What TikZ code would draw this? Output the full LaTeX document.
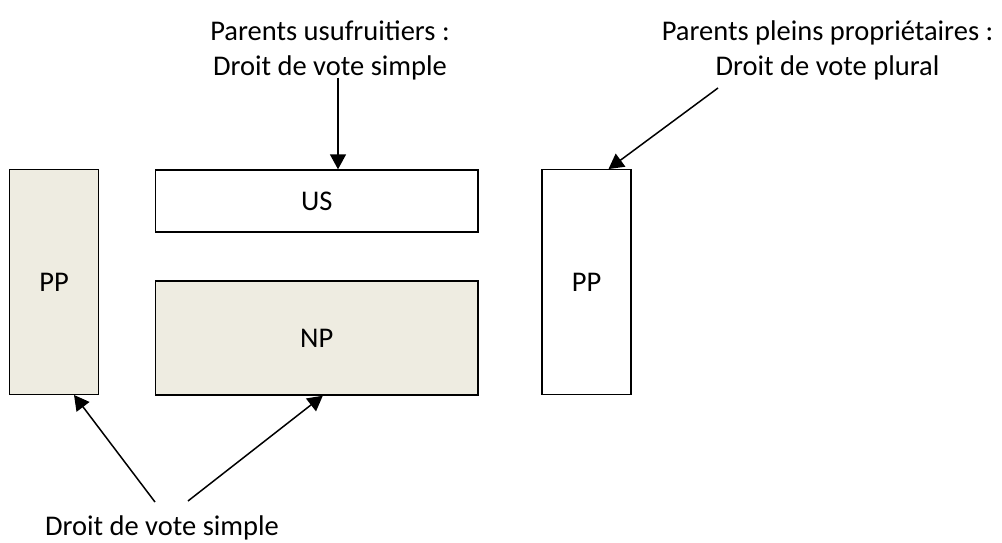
\documentclass[tikz,border=0pt]{standalone}
\usepackage{fontspec}
\setmainfont{Carlito}
\usetikzlibrary{arrows.meta}

\definecolor{beige}{HTML}{EEECE1}

\tikzset{
  part/.style={draw, line width=1.4pt, inner sep=0pt, font=\fontsize{28.5}{34}\selectfont},
  lbl/.style={align=center, inner sep=0pt, font=\fontsize{28.5}{35}\selectfont},
  arr/.style={line width=1.5pt, -{Triangle[length=15pt, width=16pt]}}
}

\begin{document}
\begin{tikzpicture}[x=1pt, y=-1pt]
        \useasboundingbox (0,0) rectangle (1002,543);

        % Boxes
        \node[part, fill=beige, minimum width=88.5pt, minimum height=224.5pt] (ppl) at (54,282) {PP};
        \node[part, minimum width=322.5pt, minimum height=62pt] (us) at (316.8,201) {US};
        \node[part, fill=beige, minimum width=322.5pt, minimum height=114pt] (np) at (316.8,338) {NP};
        \node[part, minimum width=89pt, minimum height=224.5pt] (ppr) at (586.5,282) {PP};

        % Labels
        \node[lbl] (tusu) at (330,50) {Parents usufruitiers :\\Droit de vote simple};
        \node[lbl] (tpp) at (827.5,50) {Parents pleins propriétaires :\\Droit de vote plural};
        \node[lbl, anchor=base] (tsimple) at (162,535.5) {Droit de vote simple};

        % Arrows
        \coordinate (a1) at (338,78);
        \coordinate (a2) at (718,88);
        \coordinate (a3) at (155,502);
        \coordinate (a4) at (188,501);
        \draw[arr] (a1) -- (a1 |- us.north);
        \draw[arr] (a2) -- ([xshift=22pt]ppr.north);
        \draw[arr] (a3) -- ([xshift=20pt]ppl.south);
        \draw[arr] (a4) -- ([xshift=6pt]np.south);
\end{tikzpicture}
\end{document}
